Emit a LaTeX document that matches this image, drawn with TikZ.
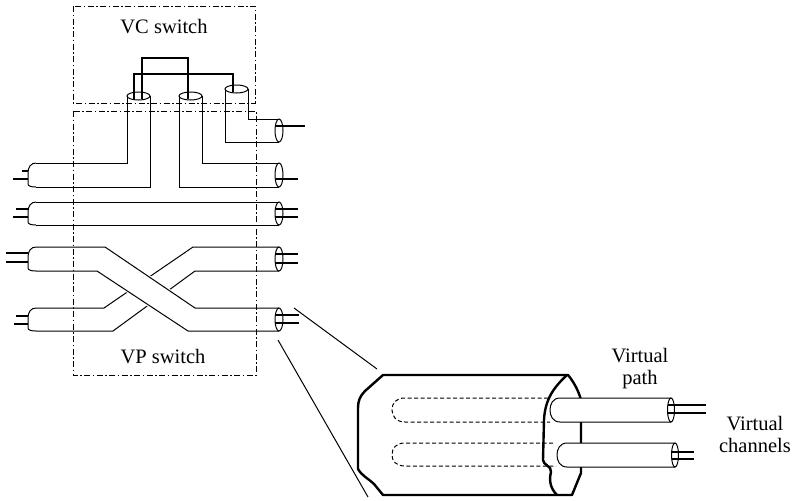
\documentclass[tikz,border=0pt]{standalone}
\usepackage{fontspec}
\setmainfont{Liberation Serif}
\begin{document}
\begin{tikzpicture}[x=1pt,y=-1pt,
  tube/.style={line width=1pt, line join=miter},
  wire/.style={line width=2.6pt},
  stub/.style={line width=1.6pt},
  switchbox/.style={line width=0.8pt, dash pattern=on 6pt off 2.5pt on 1.5pt off 2.5pt},
  outline/.style={line width=2.4pt, line join=round, line cap=round},
  hidden/.style={line width=1pt, dash pattern=on 4pt off 2.5pt},
  label/.style={font=\fontsize{20.5}{22}\selectfont, align=center, inner sep=0pt},
]
\useasboundingbox (0,0) rectangle (796,501);

% switch boxes
\draw[switchbox] (73,6) rectangle (255,103);
\draw[switchbox] (73,111) rectangle (256,375);
\node[label] (vc) at (164,27) {VC switch};
\node[label] (vp) at (163,357) {VP switch};

% tubes bent up into the VC switch
\draw[tube] (36,163) -- (127,163) -- (127,96);
\draw[tube] (36,187) -- (150,187) -- (150,96);
\draw[tube] (179,96) -- (179,187) -- (279,187);
\draw[tube] (202,96) -- (202,163) -- (279,163);
\draw[tube] (225,89) -- (225,142) -- (279,142);
\draw[tube] (248,89) -- (248,119) -- (279,119);

% tube passing straight through
\draw[tube] (36,202) -- (279,202);
\draw[tube] (36,225) -- (279,225);

% crossing tubes: lower one first, upper one masks it
\draw[tube] (36,308) -- (104,308) -- (193,247) -- (279,247);
\draw[tube] (36,331) -- (113,331) -- (195,271) -- (279,271);
\fill[white, draw=white, line width=3pt] (105,247) -- (195,308) -- (188,331) -- (97,271) -- cycle;
\draw[tube] (36,247) -- (105,247) -- (195,308) -- (279,308);
\draw[tube] (36,271) -- (97,271) -- (188,331) -- (279,331);

% cylinder tops in the VC switch
\draw[tube] (138.5,96) ellipse [x radius=11.5, y radius=4];
\draw[tube] (190.5,96) ellipse [x radius=11.5, y radius=4];
\draw[tube] (236.5,89) ellipse [x radius=11.5, y radius=4];

% VC switch connections
\draw[wire, line join=miter] (142,99) -- (142,58) -- (188,58) -- (188,99);
\draw[wire, line join=miter] (134,99) -- (134,74) -- (233,74) -- (233,92);

% left cable caps
\foreach \t/\b in {163/187,202/225,247/271,308/331}
  \draw[tube] (36,\t) .. controls (31,\t) and (28,{\t+4}) .. (28,{\t+10})
     -- (28,{\b-3}) .. controls (28,{\b-1}) and (31,\b) .. (36,\b);

% right cable ends
\foreach \t/\b in {119/142,163/187,202/225,247/271,308/331}
  \draw[tube] (279,{(\t+\b)/2}) ellipse [x radius=4, y radius={(\b-\t)/2}];

% channels on the left
\draw[stub] (22,171) -- (28,171);
\draw[wire] (13,179) -- (28,179);
\draw[wire] (16,209) -- (28,209);
\draw[wire] (13,217) -- (28,217);
\draw[wire] (6,253) -- (28,253);
\draw[wire] (6,262) -- (28,262);
\draw[wire] (16,316) -- (28,316);
\draw[wire] (14,324) -- (28,324);

% channels on the right
\draw[wire] (275,126) -- (305,126);
\draw[wire] (275,179) -- (298,179);
\draw[wire] (275,209) -- (298,209);
\draw[wire] (275,217) -- (298,217);
\draw[wire] (275,254) -- (298,254);
\draw[wire] (275,263) -- (298,263);
\draw[wire] (275,315) -- (299,315);
\draw[wire] (275,323) -- (299,323);

% magnifier lines
\coordinate (zoomA) at (294,308);
\coordinate (zoomB) at (377,369);
\coordinate (zoomC) at (278,340);
\coordinate (zoomD) at (368,497);
\draw[line width=1pt] (zoomA) -- (zoomB);
\draw[line width=1pt] (zoomC) -- (zoomD);

% magnified cable body
\draw[outline] (568,375) -- (383,375) -- (365,391) .. controls (360,396) and (358,401) .. (358,408)
  -- (358,469) .. controls (362,476) and (369,479) .. (374,484) -- (383,495) -- (572,495);
% cut face
\draw[outline] (567,375) .. controls (553,388) and (545,400) .. (544,420) -- (543,460)
  .. controls (543,465) and (552,466) .. (551,472) .. controls (549,480) and (550,488) .. (557,495);
\draw[outline] (568,375) .. controls (574,382) and (579,392) .. (581,400) -- (581,473) -- (572,495);

% hidden parts of the virtual paths
\draw[hidden] (548,398) -- (405,398) .. controls (396,398) and (392,403) .. (392,410)
  .. controls (392,416) and (396,422) .. (405,422) -- (550,422);
\draw[hidden] (553,443) -- (405,443) .. controls (396,443) and (392,448) .. (392,455)
  .. controls (392,461) and (396,466) .. (405,466) -- (556,466);

% virtual paths leaving the cable
\filldraw[tube, fill=white] (671,398) -- (560,398) .. controls (553,398) and (550,404) .. (550,410)
  .. controls (550,416) and (553,422) .. (560,422) -- (671,422);
\draw[tube] (671,410) ellipse [x radius=3.5, y radius=12];
\filldraw[tube, fill=white] (675,443) -- (567,443) .. controls (560,443) and (557,449) .. (557,455)
  .. controls (557,461) and (560,467) .. (567,467) -- (675,467);
\draw[tube] (675,455) ellipse [x radius=3.5, y radius=12];
\draw[wire] (668,405) -- (706,405);
\draw[wire] (668,413) -- (706,413);
\draw[wire] (672,452) -- (694,452);
\draw[wire] (672,459) -- (694,459);

\node[label] (vpath) at (640,369) {Virtual\\path};
\node[label] (vchan) at (755,434) {Virtual\\channels};
\end{tikzpicture}
\end{document}
